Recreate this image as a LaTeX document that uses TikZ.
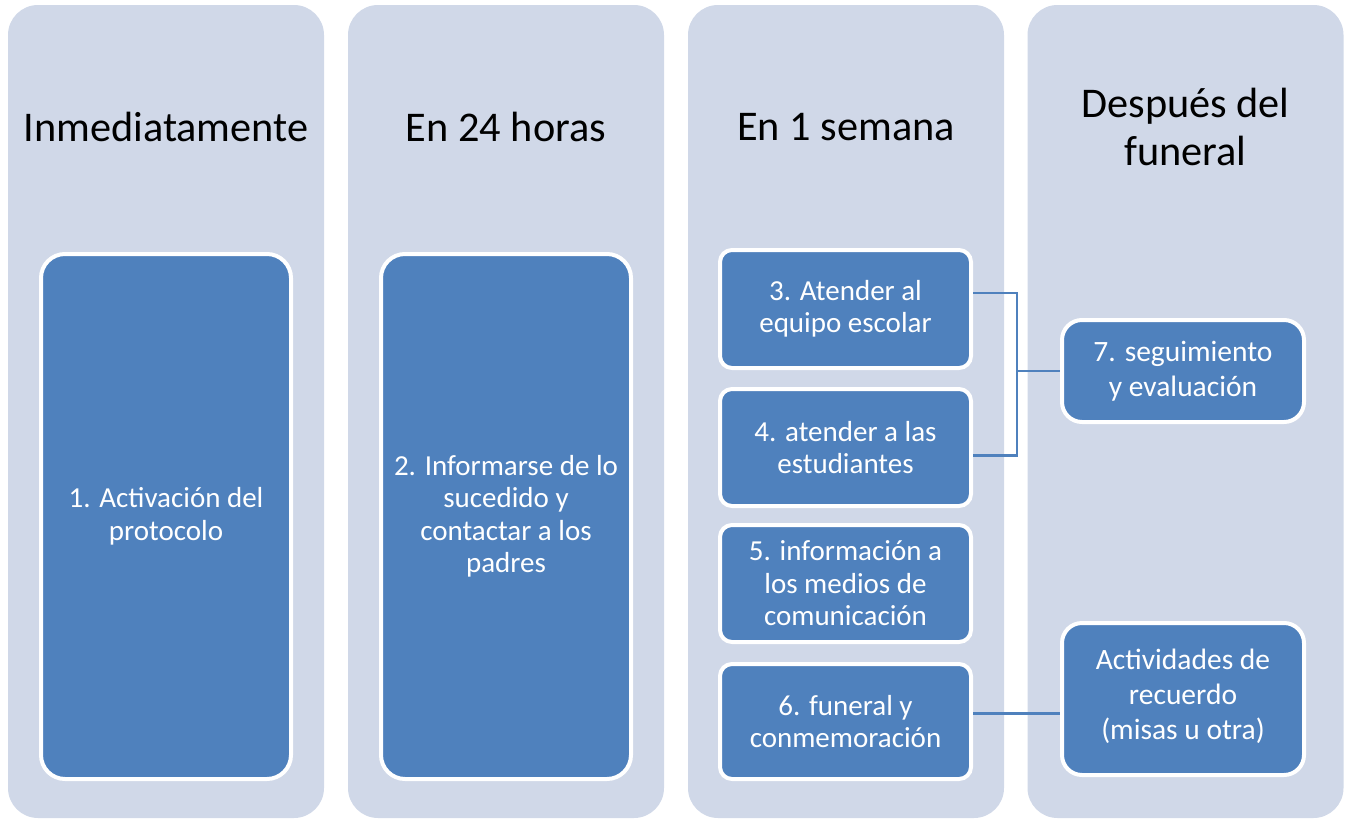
\documentclass[tikz,border=0pt]{standalone}
\usepackage{fontspec}
\setmainfont{Carlito}
\definecolor{colbg}{HTML}{D0D8E8}
\definecolor{boxblue}{HTML}{4F81BD}
\begin{document}
\begin{tikzpicture}[x=1pt,y=-1pt,
  col/.style={fill=colbg, rounded corners=30pt, minimum width=316pt, minimum height=813pt, inner sep=0pt},
  head/.style={text=black, align=center, font=\fontsize{42.3}{48}\selectfont, inner sep=0pt},
  box/.style={fill=boxblue, draw=white, line width=4pt, text=white, align=center, font=\fontsize{29}{32.5}\selectfont, inner sep=0pt},
  sidebox/.style={box, rounded corners=20pt, minimum width=242pt, font=\fontsize{29.5}{35}\selectfont},
  conn/.style={draw=boxblue, line width=2.2pt}
]
\useasboundingbox (0,0) rectangle (1347,819);
% columns
\node[col] (c1) at (166,411.5) {};
\node[col] (c2) at (506,411.5) {};
\node[col] (c3) at (846,411.5) {};
\node[col] (c4) at (1185.5,411.5) {};
% headers
\node[head] (h1) at (166,127) {Inmediatamente};
\node[head] (h2) at (506,127) {En 24 horas};
\node[head] (h3) at (846,127) {En 1 semana};
\node[head] (h4) at (1185.5,127) {Después del\\funeral};
% boxes
\node[box, rounded corners=24pt, minimum width=250pt, minimum height=525pt] (b1) at (166,516.5) {1. Activación del\\protocolo};
\node[box, rounded corners=24pt, minimum width=250pt, minimum height=525pt] (b2) at (506,516.5) {2. Informarse de lo\\sucedido y\\contactar a los\\padres};
\node[box, rounded corners=12pt, minimum width=251pt, minimum height=118pt] (b3) at (845.5,309) {3. Atender al\\equipo escolar};
\node[box, rounded corners=12pt, minimum width=251pt, minimum height=117pt] (b4) at (845.5,447.5) {4. atender a las\\estudiantes};
\node[box, rounded corners=12pt, minimum width=251pt, minimum height=117pt] (b5) at (845.5,583.5) {5. información a\\los medios de\\comunicación};
\node[box, rounded corners=12pt, minimum width=251pt, minimum height=115pt] (b6) at (845.5,721.5) {6. funeral y\\conmemoración};
\node[sidebox, minimum height=102pt] (b7) at (1183,371) {7. seguimiento\\y evaluación};
\node[sidebox, minimum height=152pt, inner ysep=0pt, text depth=10pt] (b8) at (1183,699) {Actividades de\\recuerdo\\(misas u otra)};
% connectors
\coordinate (j) at (1017,371);
\draw[conn] ([yshift=16pt]b3.east) -| (j) |- ([yshift=-8pt]b4.east);
\draw[conn] (j) -- (b7.west);
\draw[conn] ([yshift=8pt]b6.east) -- ([yshift=8pt]b6.east -| b8.west);
\end{tikzpicture}
\end{document}
